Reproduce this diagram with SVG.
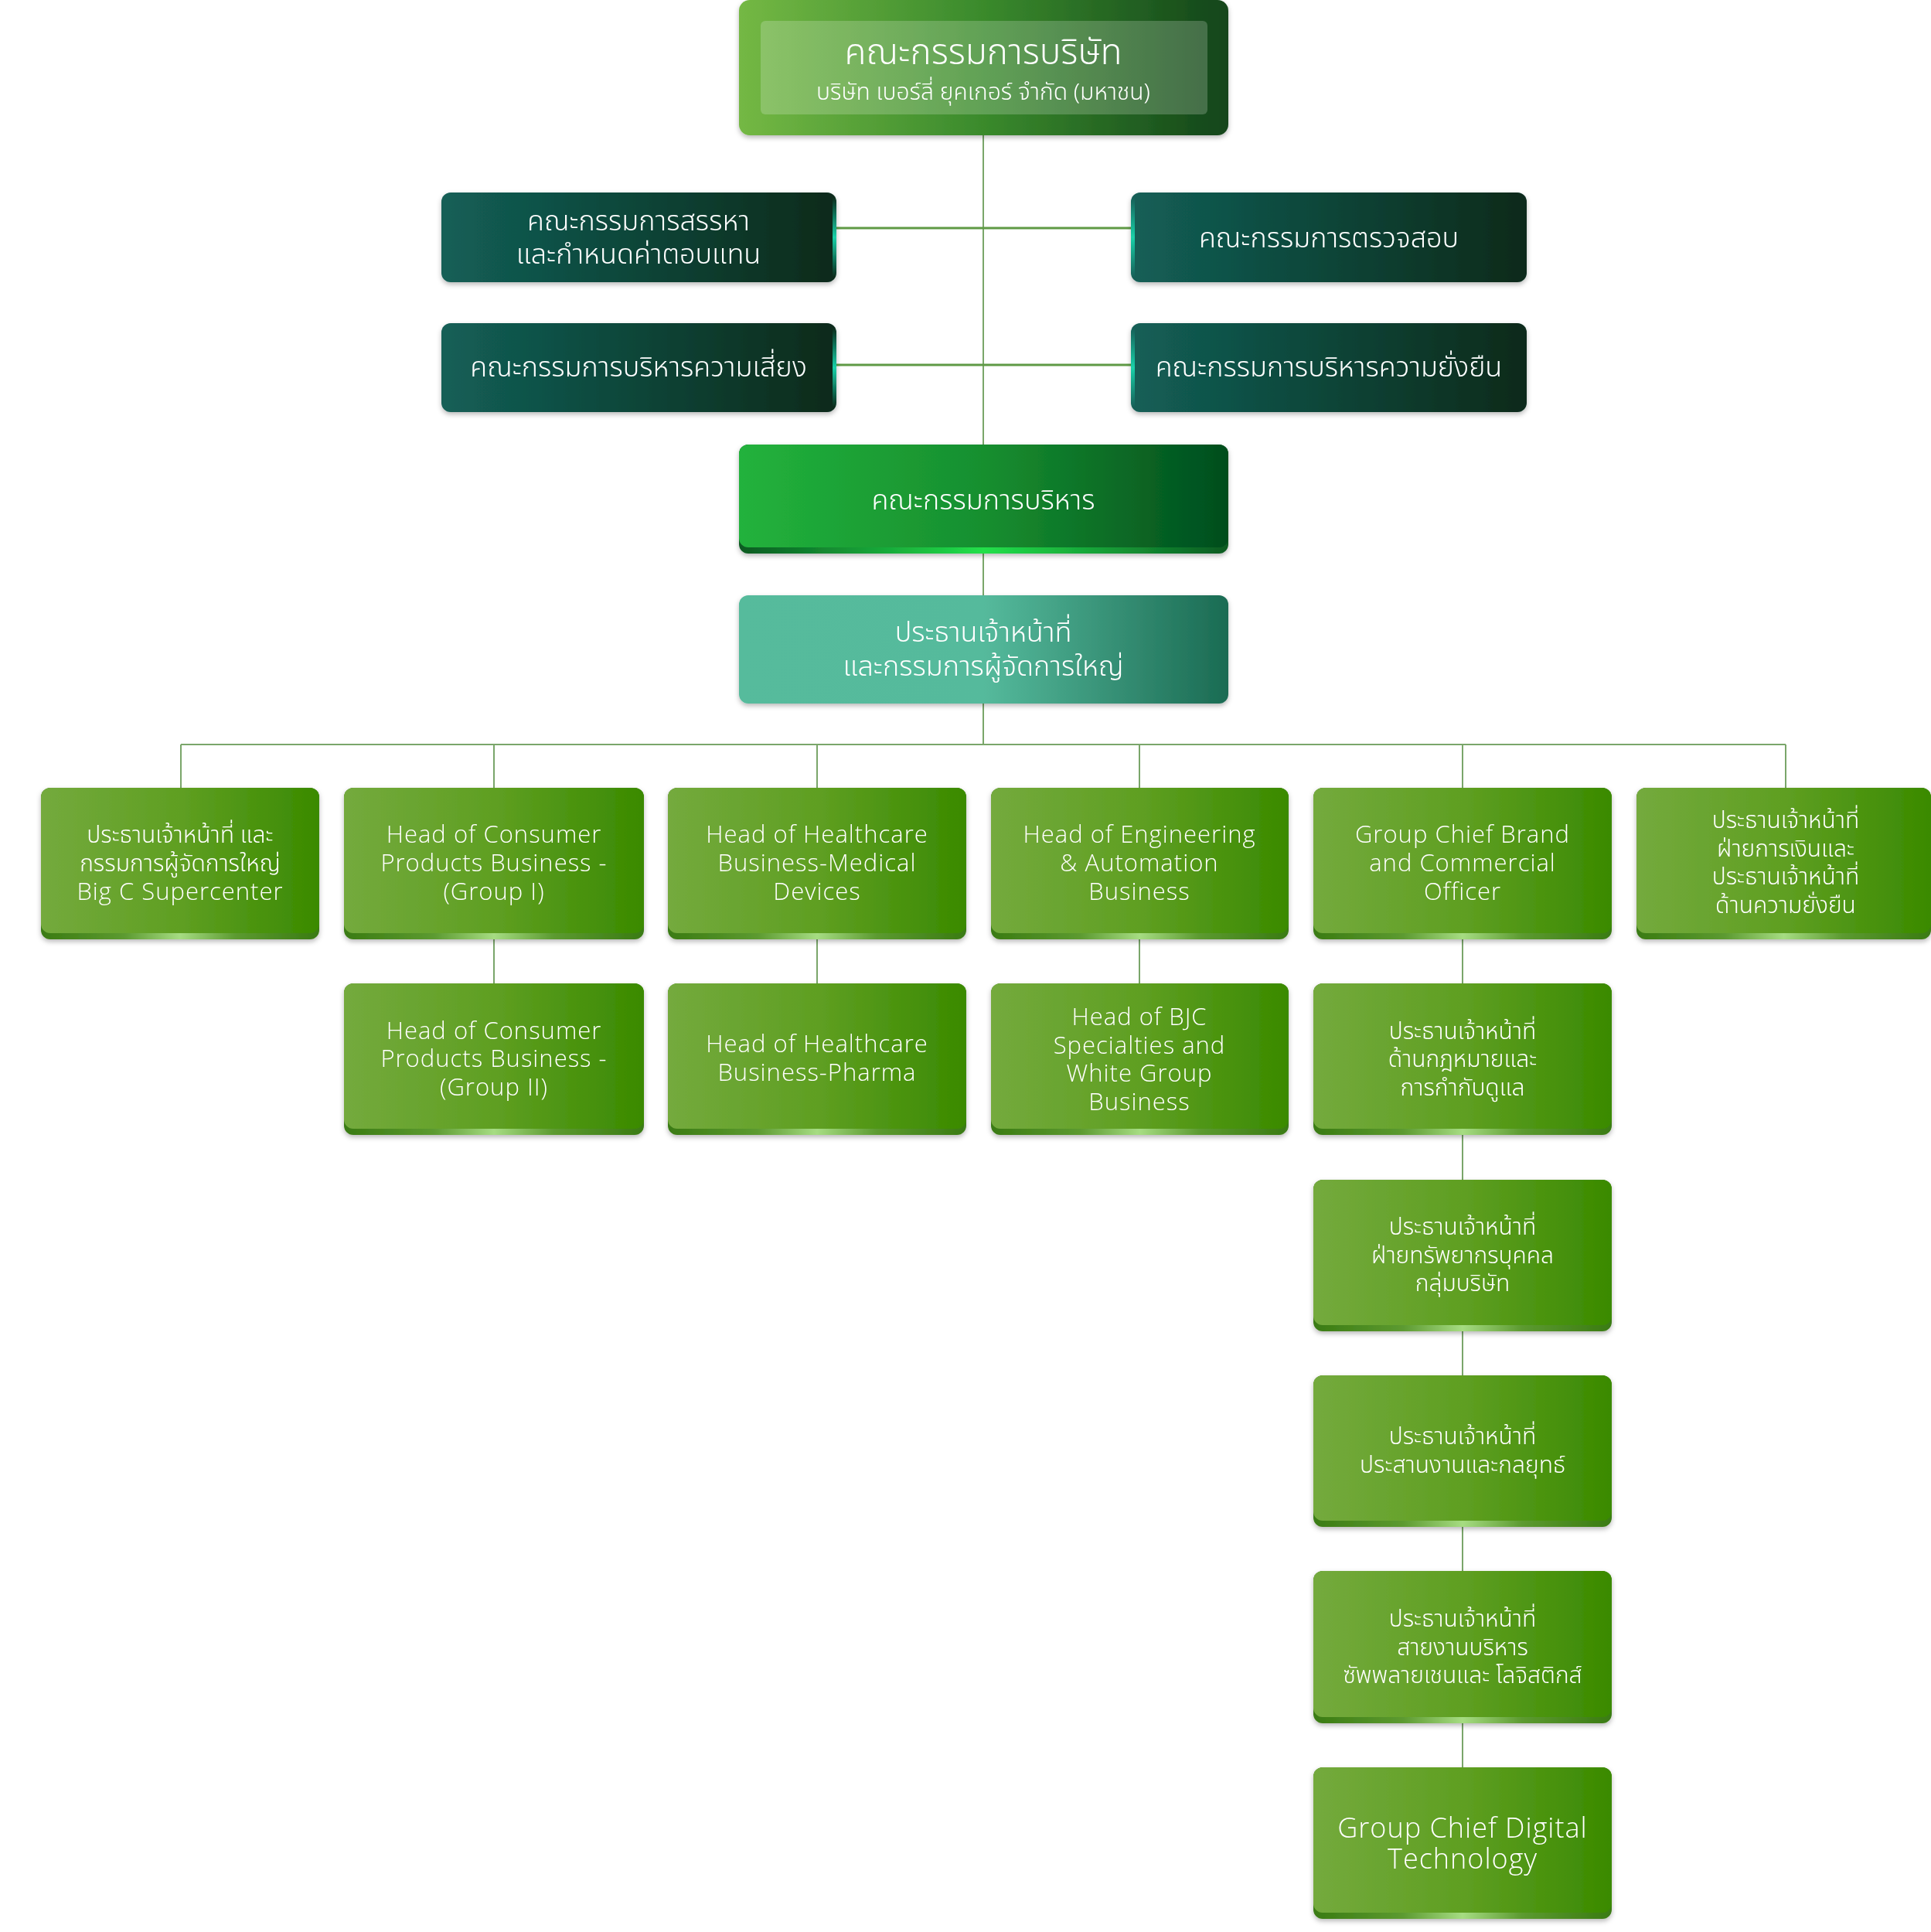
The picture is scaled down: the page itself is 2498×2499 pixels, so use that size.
<svg xmlns="http://www.w3.org/2000/svg" width="2498" height="2499" viewBox="0 0 2498 2499">
<defs>
<style>
.th{font-family:'Noto Sans Thai','Noto Sans','Open Sans',sans-serif;font-weight:300;fill:#ffffff;text-anchor:middle}
.en{font-family:'Open Sans','Noto Sans',sans-serif;font-weight:300;fill:#ffffff;text-anchor:middle;letter-spacing:1px}
.f29{font-size:30px}
.e29{font-size:31px}
.f34{font-size:36px}
.f36{font-size:36px}
.con{stroke:#7aa66a;stroke-width:2;fill:none}
.conc{stroke:#5f9a45;stroke-width:3;fill:none}
.face{fill:url(#gGreen)}
.lip{fill:url(#gLip)}
.teal{fill:url(#gTeal)}
</style>
<linearGradient id="gGreen" x1="0" y1="0" x2="1" y2="0">
<stop offset="0" stop-color="#74aa3d"/><stop offset="0.5" stop-color="#5f9f22"/><stop offset="1" stop-color="#3a8a00"/>
</linearGradient>
<linearGradient id="gLip" x1="0" y1="0" x2="1" y2="0">
<stop offset="0" stop-color="#3a7b12"/><stop offset="0.3" stop-color="#5c9a30"/><stop offset="0.5" stop-color="#a6dc82"/><stop offset="0.7" stop-color="#5c9a30"/><stop offset="1" stop-color="#3a7b12"/>
</linearGradient>
<linearGradient id="gTeal" x1="0" y1="0" x2="1" y2="0">
<stop offset="0" stop-color="#135f57"/><stop offset="0.5" stop-color="#0d4538"/><stop offset="1" stop-color="#072a1a"/>
</linearGradient>
<linearGradient id="gGlow" x1="0" y1="0" x2="0" y2="1">
<stop offset="0" stop-color="#1ad0a8" stop-opacity="0"/><stop offset="0.5" stop-color="#1ad0a8" stop-opacity="1"/><stop offset="1" stop-color="#1ad0a8" stop-opacity="0"/>
</linearGradient>
<linearGradient id="gTop" x1="0" y1="0" x2="1" y2="0">
<stop offset="0" stop-color="#74b844"/><stop offset="0.5" stop-color="#3a8a2c"/><stop offset="1" stop-color="#13451a"/>
</linearGradient>
<linearGradient id="gExec" x1="0" y1="0" x2="1" y2="0">
<stop offset="0" stop-color="#22b23c"/><stop offset="0.5" stop-color="#178f2f"/><stop offset="1" stop-color="#004d1e"/>
</linearGradient>
<linearGradient id="gExecLip" x1="0" y1="0" x2="1" y2="0">
<stop offset="0" stop-color="#0a5a22"/><stop offset="0.5" stop-color="#22e04a"/><stop offset="1" stop-color="#0a5a22"/>
</linearGradient>
<linearGradient id="gCeo" x1="0" y1="0" x2="1" y2="0">
<stop offset="0" stop-color="#56bb9c"/><stop offset="0.5" stop-color="#55ba9c"/><stop offset="1" stop-color="#1b6b53"/>
</linearGradient>
<filter id="sh" x="-5%" y="-10%" width="110%" height="130%">
<feDropShadow dx="0" dy="3" stdDeviation="3" flood-color="#000" flood-opacity="0.28"/>
</filter>
</defs>
<rect width="2498" height="2499" fill="#ffffff"/>

<g id="connectors">
<path class="con" d="M1272 175V575M1272 716V770M1272 910V963"/>
<path class="conc" d="M1082 295H1463M1082 472H1463"/>
<path class="con" d="M234 963H2310M234 963V1019M639 963V1019M1057 963V1019M1474 963V1019M1892 963V1019M2310 963V1019"/>
<path class="con" d="M639 1215V1272M1057 1215V1272M1474 1215V1272M1892 1215V1272M1892 1468V1526M1892 1722V1779M1892 1975V2032M1892 2229V2286"/>
</g>

<g id="board" filter="url(#sh)">
<rect x="956" y="0" width="633" height="175" rx="14" fill="url(#gTop)"/>
<rect x="984" y="27" width="578" height="121" rx="6" fill="#ffffff" fill-opacity="0.2"/>
<text class="th" x="1272" y="83" font-size="46">คณะกรรมการบริษัท</text>
<text class="th" x="1272" y="129" font-size="30">บริษัท เบอร์ลี่ ยุคเกอร์ จำกัด (มหาชน)</text>
</g>

<g id="nomination" filter="url(#sh)">
<rect class="teal" x="571" y="249" width="511" height="116" rx="12"/>
<rect x="1077" y="255" width="5" height="104" fill="url(#gGlow)"/>
<text class="th f34" x="826" y="298">คณะกรรมการสรรหา</text>
<text class="th f34" x="826" y="341">และกำหนดค่าตอบแทน</text>
</g>
<g id="audit" filter="url(#sh)">
<rect class="teal" x="1463" y="249" width="512" height="116" rx="12"/>
<rect x="1463" y="255" width="5" height="104" fill="url(#gGlow)"/>
<text class="th f34" x="1719" y="320">คณะกรรมการตรวจสอบ</text>
</g>
<g id="risk" filter="url(#sh)">
<rect class="teal" x="571" y="418" width="511" height="115" rx="12"/>
<rect x="1077" y="424" width="5" height="103" fill="url(#gGlow)"/>
<text class="th f34" x="826" y="487">คณะกรรมการบริหารความเสี่ยง</text>
</g>
<g id="sustain" filter="url(#sh)">
<rect class="teal" x="1463" y="418" width="512" height="115" rx="12"/>
<rect x="1463" y="424" width="5" height="103" fill="url(#gGlow)"/>
<text class="th f34" x="1719" y="487">คณะกรรมการบริหารความยั่งยืน</text>
</g>

<g id="exec" filter="url(#sh)">
<rect x="956" y="575" width="633" height="141" rx="12" fill="url(#gExecLip)"/>
<rect x="956" y="575" width="633" height="133" rx="12" fill="url(#gExec)"/>
<text class="th f34" x="1272" y="659">คณะกรรมการบริหาร</text>
</g>

<g id="ceo" filter="url(#sh)">
<rect x="956" y="770" width="633" height="140" rx="12" fill="url(#gCeo)"/>
<text class="th f36" x="1272" y="830">ประธานเจ้าหน้าที่</text>
<text class="th f36" x="1272" y="874">และกรรมการผู้จัดการใหญ่</text>
</g>

<g id="bigc" filter="url(#sh)">
<rect class="lip" x="53" y="1019" width="360" height="196" rx="12"/>
<rect class="face" x="53" y="1019" width="360" height="188" rx="12"/>
<text class="th f29" x="233" y="1090">ประธานเจ้าหน้าที่ และ</text>
<text class="th f29" x="233" y="1127">กรรมการผู้จัดการใหญ่</text>
<text class="en e29" x="233" y="1164">Big C Supercenter</text>
</g>
<g id="cp1" filter="url(#sh)">
<rect class="lip" x="445" y="1019" width="388" height="196" rx="12"/>
<rect class="face" x="445" y="1019" width="388" height="188" rx="12"/>
<text class="en e29" x="639" y="1090">Head of Consumer</text>
<text class="en e29" x="639" y="1127">Products Business -</text>
<text class="en e29" x="639" y="1164">(Group I)</text>
</g>
<g id="hcmd" filter="url(#sh)">
<rect class="lip" x="864" y="1019" width="386" height="196" rx="12"/>
<rect class="face" x="864" y="1019" width="386" height="188" rx="12"/>
<text class="en e29" x="1057" y="1090">Head of Healthcare</text>
<text class="en e29" x="1057" y="1127">Business-Medical</text>
<text class="en e29" x="1057" y="1164">Devices</text>
</g>
<g id="eng" filter="url(#sh)">
<rect class="lip" x="1282" y="1019" width="385" height="196" rx="12"/>
<rect class="face" x="1282" y="1019" width="385" height="188" rx="12"/>
<text class="en e29" x="1474" y="1090">Head of Engineering</text>
<text class="en e29" x="1474" y="1127">&amp; Automation</text>
<text class="en e29" x="1474" y="1164">Business</text>
</g>
<g id="brand" filter="url(#sh)">
<rect class="lip" x="1699" y="1019" width="386" height="196" rx="12"/>
<rect class="face" x="1699" y="1019" width="386" height="188" rx="12"/>
<text class="en e29" x="1892" y="1090">Group Chief Brand</text>
<text class="en e29" x="1892" y="1127">and Commercial</text>
<text class="en e29" x="1892" y="1164">Officer</text>
</g>
<g id="cfo" filter="url(#sh)">
<rect class="lip" x="2117" y="1019" width="381" height="196" rx="12"/>
<rect class="face" x="2117" y="1019" width="381" height="188" rx="12"/>
<text class="th f29" x="2310" y="1071">ประธานเจ้าหน้าที่</text>
<text class="th f29" x="2310" y="1108">ฝ่ายการเงินและ</text>
<text class="th f29" x="2310" y="1144">ประธานเจ้าหน้าที่</text>
<text class="th f29" x="2310" y="1181">ด้านความยั่งยืน</text>
</g>

<g id="cp2" filter="url(#sh)">
<rect class="lip" x="445" y="1272" width="388" height="196" rx="12"/>
<rect class="face" x="445" y="1272" width="388" height="188" rx="12"/>
<text class="en e29" x="639" y="1344">Head of Consumer</text>
<text class="en e29" x="639" y="1380">Products Business -</text>
<text class="en e29" x="639" y="1417">(Group II)</text>
</g>
<g id="pharma" filter="url(#sh)">
<rect class="lip" x="864" y="1272" width="386" height="196" rx="12"/>
<rect class="face" x="864" y="1272" width="386" height="188" rx="12"/>
<text class="en e29" x="1057" y="1361">Head of Healthcare</text>
<text class="en e29" x="1057" y="1398">Business-Pharma</text>
</g>
<g id="bjc" filter="url(#sh)">
<rect class="lip" x="1282" y="1272" width="385" height="196" rx="12"/>
<rect class="face" x="1282" y="1272" width="385" height="188" rx="12"/>
<text class="en e29" x="1474" y="1326">Head of BJC</text>
<text class="en e29" x="1474" y="1363">Specialties and</text>
<text class="en e29" x="1474" y="1399">White Group</text>
<text class="en e29" x="1474" y="1436">Business</text>
</g>
<g id="legal" filter="url(#sh)">
<rect class="lip" x="1699" y="1272" width="386" height="196" rx="12"/>
<rect class="face" x="1699" y="1272" width="386" height="188" rx="12"/>
<text class="th f29" x="1892" y="1344">ประธานเจ้าหน้าที่</text>
<text class="th f29" x="1892" y="1380">ด้านกฎหมายและ</text>
<text class="th f29" x="1892" y="1417">การกำกับดูแล</text>
</g>
<g id="hr" filter="url(#sh)">
<rect class="lip" x="1699" y="1526" width="386" height="196" rx="12"/>
<rect class="face" x="1699" y="1526" width="386" height="188" rx="12"/>
<text class="th f29" x="1892" y="1597">ประธานเจ้าหน้าที่</text>
<text class="th f29" x="1892" y="1634">ฝ่ายทรัพยากรบุคคล</text>
<text class="th f29" x="1892" y="1670">กลุ่มบริษัท</text>
</g>
<g id="strategy" filter="url(#sh)">
<rect class="lip" x="1699" y="1779" width="386" height="196" rx="12"/>
<rect class="face" x="1699" y="1779" width="386" height="188" rx="12"/>
<text class="th f29" x="1892" y="1868">ประธานเจ้าหน้าที่</text>
<text class="th f29" x="1892" y="1905">ประสานงานและกลยุทธ์</text>
</g>
<g id="supply" filter="url(#sh)">
<rect class="lip" x="1699" y="2032" width="386" height="197" rx="12"/>
<rect class="face" x="1699" y="2032" width="386" height="189" rx="12"/>
<text class="th f29" x="1892" y="2104">ประธานเจ้าหน้าที่</text>
<text class="th f29" x="1892" y="2141">สายงานบริหาร</text>
<text class="th f29" x="1892" y="2177">ซัพพลายเชนและ โลจิสติกส์</text>
</g>
<g id="digital" filter="url(#sh)">
<rect class="lip" x="1699" y="2286" width="386" height="196" rx="12"/>
<rect class="face" x="1699" y="2286" width="386" height="188" rx="12"/>
<text class="en" x="1892" y="2377" font-size="36" letter-spacing="0.8">Group Chief Digital</text>
<text class="en" x="1892" y="2417" font-size="36" letter-spacing="0.8">Technology</text>
</g>
</svg>
